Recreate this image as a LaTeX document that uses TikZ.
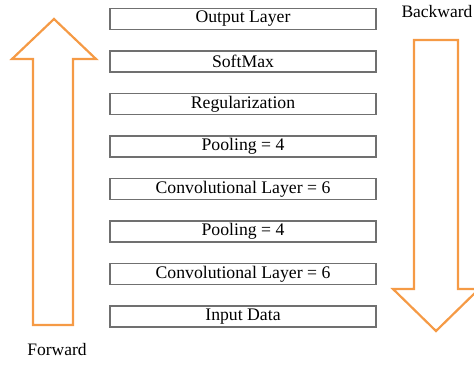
\documentclass[tikz,border=0pt]{standalone}
\usepackage{fontspec}
\setmainfont{Liberation Serif}
\definecolor{arroworange}{HTML}{F59A45}
\definecolor{boxgray}{HTML}{707070}
\begin{document}
\begin{tikzpicture}[x=1pt,y=-1pt,
  layer/.style={draw=boxgray, line width=1.3pt, minimum width=266pt, minimum height=21pt, inner sep=0pt, font=\fontsize{17.7}{20}\selectfont},
  bigarrow/.style={draw=arroworange, line width=2.2pt, line join=miter}]
\useasboundingbox (0,0) rectangle (474,365);

\node[layer] (out) at (243,19) {Output Layer};
\node[layer] (soft) at (243,61.5) {SoftMax};
\node[layer] (reg) at (243,104) {Regularization};
\node[layer] (pool2) at (243,146.5) {Pooling = 4};
\node[layer] (conv2) at (243,189) {Convolutional Layer = 6};
\node[layer] (pool1) at (243,231.5) {Pooling = 4};
\node[layer] (conv1) at (243,274) {Convolutional Layer = 6};
\node[layer] (input) at (243,316.5) {Input Data};

% forward arrow
\draw[bigarrow] (33,325) -- (33,59) -- (12,59) -- (54,19) -- (96,59) -- (73,59) -- (73,325) -- cycle;
\node[font=\fontsize{17.5}{20}\selectfont] (fwd) at (57,350) {Forward};

% backward arrow
\draw[bigarrow] (414,40) -- (414,289) -- (393,289) -- (436,331) -- (479,289) -- (458,289) -- (458,40) -- cycle;
\node[font=\fontsize{17.5}{20}\selectfont] (bwd) at (437,12) {Backward};
\end{tikzpicture}
\end{document}
